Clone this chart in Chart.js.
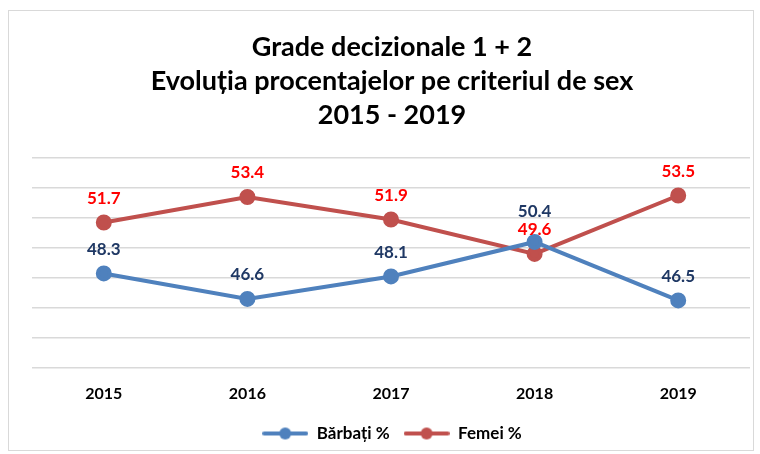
<!DOCTYPE html>
<html><head><meta charset="utf-8">
<script src="https://cdn.jsdelivr.net/npm/chart.js@4.4.1/dist/chart.umd.min.js"></script>
<style>
html,body{margin:0;padding:0;background:#fff;}
#wrap{position:relative;width:760px;height:454px;}
#frame{position:absolute;left:8px;top:10px;width:746px;height:441px;border:1px solid #d9d9d9;box-sizing:border-box;pointer-events:none;}
canvas{position:absolute;left:0;top:0;}
</style></head>
<body>
<div id="wrap"><canvas id="c" width="760" height="454"></canvas><div id="frame"></div></div>
<script>
const categories = ['2015','2016','2017','2018','2019'];
const barbati = [48.3, 46.6, 48.1, 50.4, 46.5];
const femei = [51.7, 53.4, 51.9, 49.6, 53.5];
const titleLines = ['Grade decizionale 1 + 2','Evoluția procentajelor pe criteriul de sex','2015 - 2019'];
const seriesNames = ['Bărbați %','Femei %'];

const FONT = 'Lato, "Open Sans", sans-serif';
const BLUE = '#4F81BD', RED = '#C0504D';

function legendIcon(color){
  const c = document.createElement('canvas');
  c.width = 46; c.height = 14;
  const x = c.getContext('2d');
  x.strokeStyle = color; x.lineWidth = 4; x.lineCap='round';
  x.beginPath(); x.moveTo(2,7); x.lineTo(44,7); x.stroke();
  x.fillStyle = color; x.beginPath(); x.arc(23,7,6,0,Math.PI*2); x.fill();
  return c;
}

const labelPlugin = {
  id:'valueLabels',
  afterDatasetsDraw(chart, args, opts){
    const ctx = chart.ctx;
    ctx.save();
    ctx.font = 'bold 17px ' + FONT;
    ctx.textAlign = 'center';
    ctx.textBaseline = 'middle';
    chart.data.datasets.forEach((ds, di) => {
      const meta = chart.getDatasetMeta(di);
      meta.data.forEach((pt, i) => {
        let off = 24;
        if (opts.extra && opts.extra[di] && opts.extra[di][i]) off += opts.extra[di][i];
        ctx.fillStyle = ds.labelColor;
        ctx.fillText(ds.data[i].toFixed(1), pt.x, pt.y - off);
      });
    });
    ctx.restore();
  }
};

new Chart(document.getElementById('c'), {
  type:'line',
  data:{
    labels: categories,
    datasets:[
      {label:seriesNames[0], data:barbati, borderColor:BLUE, backgroundColor:BLUE, borderWidth:4,
       pointRadius:6, pointHoverRadius:6, pointBackgroundColor:BLUE, pointBorderColor:BLUE, labelColor:'#1F3864', tension:0},
      {label:seriesNames[1], data:femei, borderColor:RED, backgroundColor:RED, borderWidth:4,
       pointRadius:6, pointHoverRadius:6, pointBackgroundColor:RED, pointBorderColor:RED, labelColor:'#FF0000', tension:0}
    ]
  },
  options:{
    responsive:false, animation:false,
    layout:{padding:{left:32,right:8,top:0,bottom:2}},
    scales:{
      x:{offset:true, grid:{display:false}, border:{display:false},
         ticks:{color:'#000', font:{family:FONT, size:16, weight:'bold'}, padding:8}},
      y:{min:42, max:56, ticks:{display:false, stepSize:2}, border:{display:false},
         grid:{color:'#d9d9d9', lineWidth:1.5, drawTicks:false}}
    },
    plugins:{
      title:{display:true, text:titleLines, color:'#000', font:{family:FONT, size:27, weight:'bold', lineHeight:1.26},
             padding:{top:30, bottom:26}},
      legend:{position:'bottom', labels:{usePointStyle:true, pointStyleWidth:46, color:'#000',
              font:{family:FONT, size:17, weight:'bold'}, padding:14,
              generateLabels(chart){
                return chart.data.datasets.map((ds,i)=>({text:ds.label, pointStyle:legendIcon(ds.borderColor),
                  fillStyle:ds.borderColor, strokeStyle:ds.borderColor, lineWidth:0, datasetIndex:i, hidden:false, fontColor:'#000'}));
              }}},
      tooltip:{enabled:false},
      valueLabels:{extra:{0:{3:6}}}
    }
  },
  plugins:[labelPlugin]
});
</script>
</body></html>
